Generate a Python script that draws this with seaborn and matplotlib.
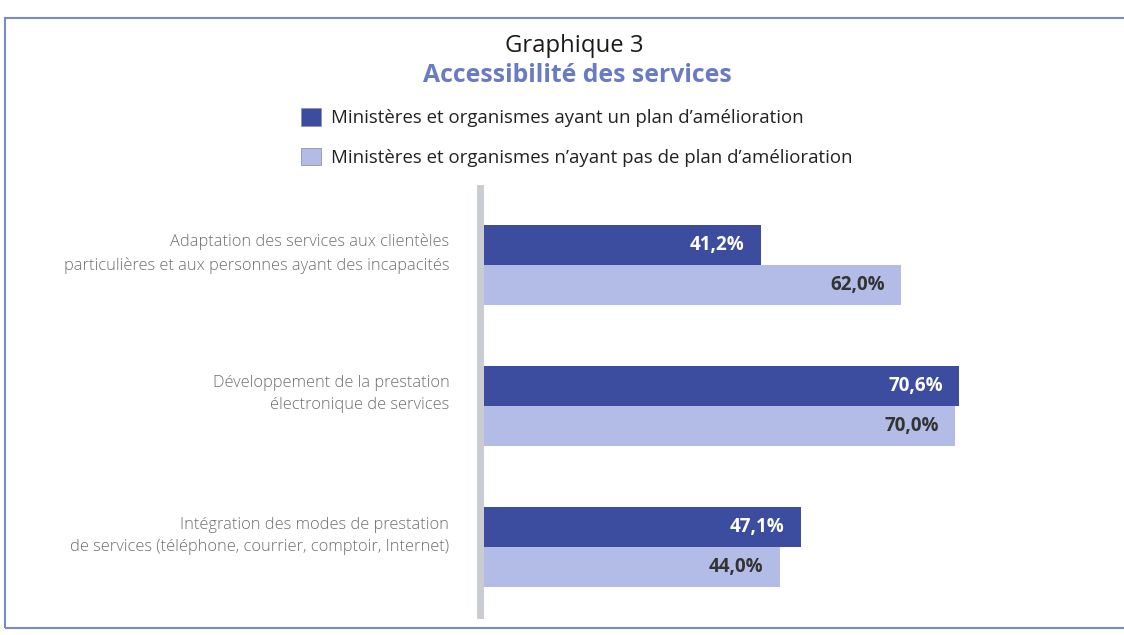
import matplotlib
matplotlib.use("Agg")
import matplotlib.pyplot as plt
import matplotlib.transforms as mtransforms
from matplotlib.patches import Rectangle
import seaborn as sns
import pandas as pd

categories = [
    "Adaptation des services aux clientèles\nparticulières et aux personnes ayant des incapacités",
    "Développement de la prestation\nélectronique de services",
    "Intégration des modes de prestation\nde services (téléphone, courrier, comptoir, Internet)",
]
series_names = [
    "Ministères et organismes ayant un plan d’amélioration",
    "Ministères et organismes n’ayant pas de plan d’amélioration",
]
with_plan = [41.2, 70.6, 47.1]
without_plan = [62.0, 70.0, 44.0]

df = pd.DataFrame({
    "categorie": categories * 2,
    "serie": [series_names[0]] * 3 + [series_names[1]] * 3,
    "valeur": with_plan + without_plan,
})

dark = "#3c4da0"
light = "#b3bbe7"

sns.set_theme(style="white")
plt.rcParams["font.family"] = ["Open Sans", "DejaVu Sans"]

fig = plt.figure(figsize=(11.24, 6.35), dpi=100)
ax = fig.add_axes([484 / 1124, 20 / 635, 606 / 1124, 427 / 635])

sns.barplot(data=df, y="categorie", x="valeur", hue="serie", order=categories,
            hue_order=series_names, palette=[dark, light], width=0.57,
            orient="h", ax=ax, saturation=1, legend=True, edgecolor="none")

ax.set_xlim(0, 90)
ax.set_ylim(2.48, -0.546)
ax.set_xlabel("")
ax.set_ylabel("")
ax.set_xticks([])
for s in ["top", "right", "bottom"]:
    ax.spines[s].set_visible(False)
ax.spines["left"].set_color("#c9cdd2")
ax.spines["left"].set_linewidth(5)
ax.spines["left"].set_position(("outward", 3))

ax.set_yticks(range(len(categories)))
ax.set_yticklabels(categories, fontsize=11.8, color="#6f6f6f", fontweight="light",
                   ha="right", linespacing=1.5)
ax.tick_params(axis="y", length=0, pad=22)
offset = mtransforms.ScaledTranslation(0, 12 / 72, fig.dpi_scale_trans)
for lbl in ax.get_yticklabels():
    lbl.set_transform(lbl.get_transform() + offset)

for i, cont in enumerate(ax.containers):
    col = "white" if i == 0 else "#333333"
    labels = [f"{v:.1f}%".replace(".", ",") for v in cont.datavalues]
    ax.bar_label(cont, labels=labels, padding=-12, color=col, fontsize=13.5,
                 fontweight="bold")
for t in ax.texts:
    t.set_ha("right")

handles, labs = ax.get_legend_handles_labels()
ax.legend_.remove()
leg = fig.legend(handles, labs, loc="upper left", bbox_to_anchor=(294 / 1124, 1 - 101 / 635),
                 frameon=False, fontsize=13.4, handlelength=1.05, handleheight=1.05,
                 labelspacing=1.1, handletextpad=0.55, borderaxespad=0)
for h in leg.legend_handles:
    h.set_edgecolor("#8d93b5")
    h.set_linewidth(0.6)
for t in leg.get_texts():
    t.set_color("#222222")

fig.text(574 / 1124, 1 - 46 / 635, "Graphique 3", ha="center", va="center",
         fontsize=17.2, color="#1a1a1a")
fig.text(577 / 1124, 1 - 75 / 635, "Accessibilité des services", ha="center",
         va="center", fontsize=17.8, fontweight="bold", color="#6a7bc6")

fig.patches.append(Rectangle((5 / 1124, 7 / 635), 1140 / 1124, 610 / 635,
                             transform=fig.transFigure, fill=False,
                             edgecolor="#7a89c8", linewidth=1.5))

fig.savefig("out.png", dpi=100)
